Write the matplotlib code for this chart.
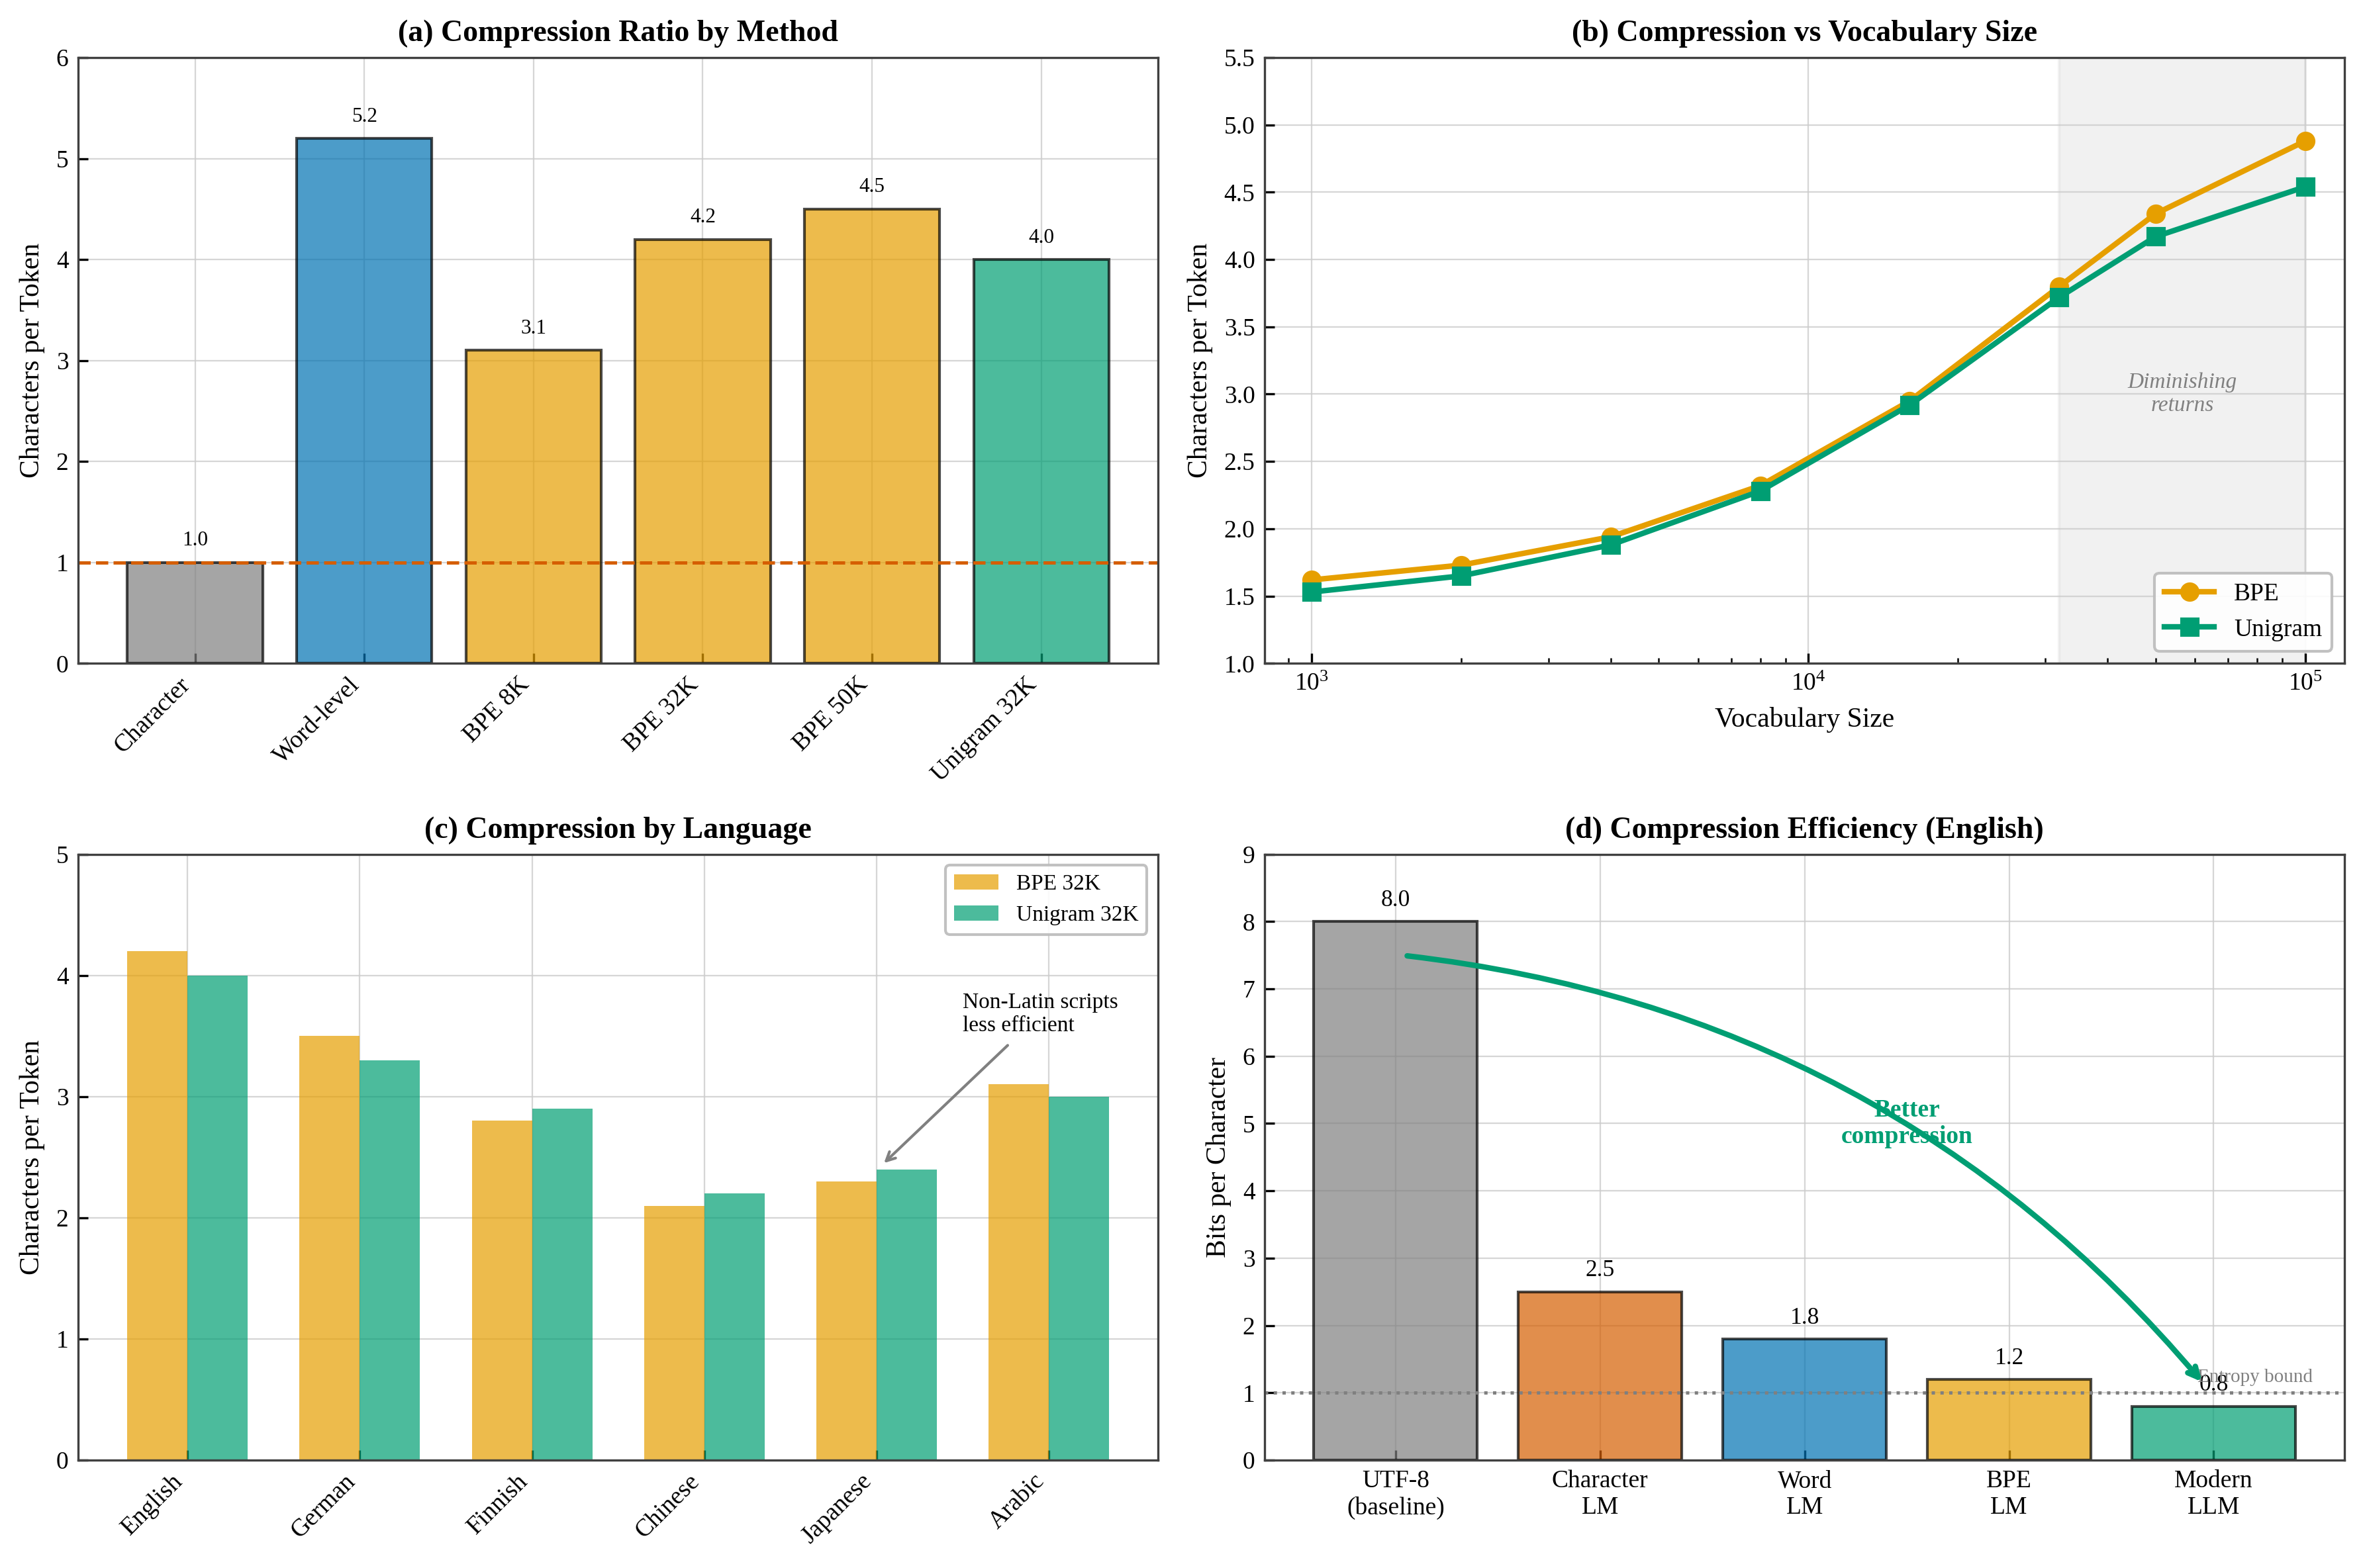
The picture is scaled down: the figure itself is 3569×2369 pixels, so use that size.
import numpy as np
import matplotlib
matplotlib.use("Agg")
import matplotlib.pyplot as plt

# data
methods = ["Character", "Word-level", "BPE 8K", "BPE 32K", "BPE 50K", "Unigram 32K"]
method_ratio = [1.0, 5.2, 3.1, 4.2, 4.5, 4.0]

vocab_sizes = [1000, 2000, 4000, 8000, 16000, 32000, 50000, 100000]
bpe_curve = [1.62, 1.73, 1.94, 2.32, 2.95, 3.80, 4.34, 4.88]
unigram_curve = [1.53, 1.65, 1.88, 2.28, 2.92, 3.72, 4.17, 4.54]

languages = ["English", "German", "Finnish", "Chinese", "Japanese", "Arabic"]
lang_bpe = [4.2, 3.5, 2.8, 2.1, 2.3, 3.1]
lang_unigram = [4.0, 3.3, 2.9, 2.2, 2.4, 3.0]

models = ["UTF-8\n(baseline)", "Character\nLM", "Word\nLM", "BPE\nLM", "Modern\nLLM"]
bits_per_char = [8.0, 2.5, 1.8, 1.2, 0.8]

GRAY = "#7f7f7f"
BLUE = "#0072B2"
ORANGE = "#E69F00"
GREEN = "#009E73"
VERM = "#D55E00"

plt.rcParams["font.family"] = "serif"
plt.rcParams["font.serif"] = ["Liberation Serif", "DejaVu Serif"]
plt.rcParams["mathtext.fontset"] = "custom"
plt.rcParams["mathtext.rm"] = "Liberation Serif"
plt.rcParams["font.size"] = 9
plt.rcParams["axes.edgecolor"] = "#404040"
plt.rcParams["axes.linewidth"] = 0.8
plt.rcParams["xtick.direction"] = "in"
plt.rcParams["ytick.direction"] = "in"
plt.rcParams["xtick.major.size"] = 3.5
plt.rcParams["ytick.major.size"] = 3.5
plt.rcParams["xtick.minor.size"] = 2
plt.rcParams["xtick.major.width"] = 0.8
plt.rcParams["ytick.major.width"] = 0.8
plt.rcParams["xtick.labelsize"] = 9
plt.rcParams["ytick.labelsize"] = 9
plt.rcParams["axes.axisbelow"] = True

fig, axes = plt.subplots(2, 2, figsize=(3569 / 300, 2369 / 300), dpi=300)
fig.subplots_adjust(left=0.0331, right=0.9922, top=0.9633, bottom=0.0688,
                    wspace=0.0987, hspace=0.315)


def style(ax):
    ax.grid(True, color="#cccccc", linewidth=0.55, alpha=0.8)
    ax.tick_params(top=False, right=False)


# (a)
ax = axes[0, 0]
x = np.arange(len(methods))
cols = [GRAY, BLUE, ORANGE, ORANGE, ORANGE, GREEN]
bars = ax.bar(x, method_ratio, width=0.8, color=cols, alpha=0.7,
              edgecolor="black", linewidth=1.0)
for b, v in zip(bars, method_ratio):
    ax.text(b.get_x() + b.get_width() / 2, v + 0.12, f"{v:.1f}",
            ha="center", va="bottom", fontsize=7.5)
ax.axhline(1, color=VERM, linestyle="--", linewidth=1.2)
ax.set_xticks(x)
ax.set_xticklabels(methods, rotation=45, ha="right")
ax.set_ylim(0, 6)
ax.set_ylabel("Characters per Token", fontsize=10)
ax.set_title("(a) Compression Ratio by Method", fontsize=11, fontweight="bold")
style(ax)

# (b)
ax = axes[0, 1]
ax.axvspan(32000, 100000, color="#d9d9d9", alpha=0.35, zorder=0)
ax.plot(vocab_sizes, bpe_curve, "-o", color=ORANGE, linewidth=2,
        markersize=6, label="BPE")
ax.plot(vocab_sizes, unigram_curve, "-s", color=GREEN, linewidth=2,
        markersize=6, label="Unigram")
ax.set_xscale("log")
ax.set_xlim(805, 120000)
ax.set_ylim(1.0, 5.5)
ax.set_yticks(np.arange(1.0, 5.51, 0.5))
ax.yaxis.set_major_formatter(matplotlib.ticker.FormatStrFormatter("%.1f"))
ax.text(np.sqrt(32000 * 100000), 3.0, "Diminishing\nreturns", ha="center",
        va="center", fontsize=8, style="italic", color="gray")
ax.set_xlabel("Vocabulary Size", fontsize=10)
ax.set_ylabel("Characters per Token", fontsize=10)
ax.set_title("(b) Compression vs Vocabulary Size", fontsize=11, fontweight="bold")
ax.legend(loc="lower right", fontsize=9, framealpha=0.9, edgecolor="#bbbbbb")
style(ax)

# (c)
ax = axes[1, 0]
x = np.arange(len(languages))
w = 0.35
ax.bar(x - w / 2, lang_bpe, w, color=ORANGE, alpha=0.7, label="BPE 32K")
ax.bar(x + w / 2, lang_unigram, w, color=GREEN, alpha=0.7, label="Unigram 32K")
ax.set_xticks(x)
ax.set_xticklabels(languages, rotation=45, ha="right")
ax.set_ylim(0, 5)
ax.set_ylabel("Characters per Token", fontsize=10)
ax.set_title("(c) Compression by Language", fontsize=11, fontweight="bold")
ax.legend(loc="upper right", fontsize=8, framealpha=0.9, edgecolor="#bbbbbb")
ax.annotate("Non-Latin scripts\nless efficient", xy=(4.02, 2.42),
            xytext=(4.5, 3.5), fontsize=8, ha="left", va="bottom",
            arrowprops=dict(arrowstyle="->", color="gray", lw=1.0))
style(ax)

# (d)
ax = axes[1, 1]
x = np.arange(len(models))
cols = [GRAY, VERM, BLUE, ORANGE, GREEN]
bars = ax.bar(x, bits_per_char, width=0.8, color=cols, alpha=0.7,
              edgecolor="black", linewidth=1.0)
for b, v in zip(bars, bits_per_char):
    ax.text(b.get_x() + b.get_width() / 2, v + 0.15, f"{v:.1f}",
            ha="center", va="bottom", fontsize=8.5)
ax.axhline(1, color="gray", linestyle=":", linewidth=1.2)
ax.text(3.92, 1.1, "Entropy bound", fontsize=7, color="gray", ha="left", va="bottom")
ax.annotate("", xy=(3.96, 1.1), xytext=(0.03, 7.5),
            arrowprops=dict(arrowstyle="->", color=GREEN, lw=2,
                            connectionstyle="arc3,rad=-0.2"))
ax.text(2.5, 5.0, "Better\ncompression", ha="center", va="center",
        fontsize=9, fontweight="bold", color=GREEN)
ax.set_xticks(x)
ax.set_xticklabels(models)
ax.set_ylim(0, 9)
ax.set_ylabel("Bits per Character", fontsize=10)
ax.set_title("(d) Compression Efficiency (English)", fontsize=11, fontweight="bold")
style(ax)

fig.savefig("out.png", dpi=300)
